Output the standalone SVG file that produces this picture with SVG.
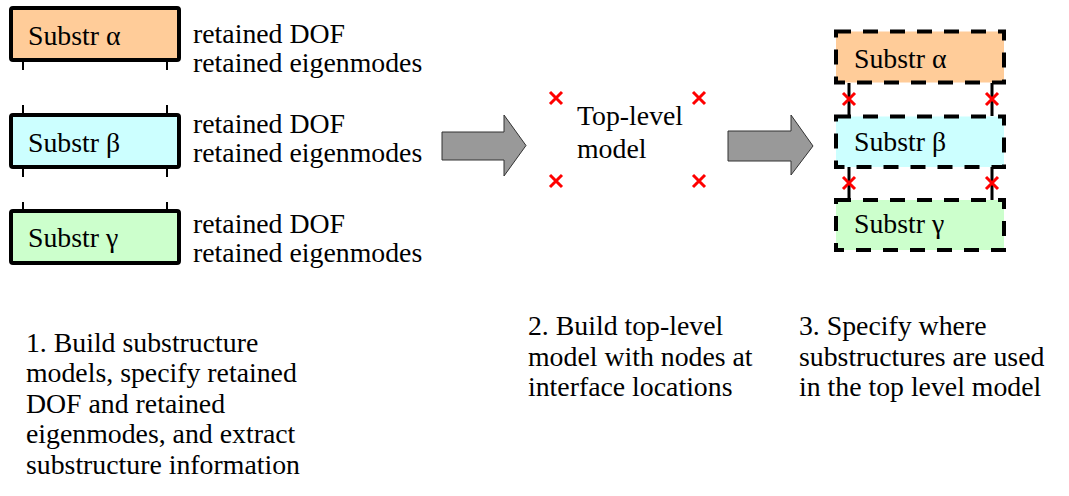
<svg xmlns="http://www.w3.org/2000/svg" width="1069" height="496" viewBox="0 0 1069 496">
  <style>
    .lbl { font-family: 'Liberation Serif', 'Times New Roman', Times, 'DejaVu Serif', serif; font-size: 27px; fill: #000; }
    .box { stroke: #000; stroke-width: 4; }
    .dash { stroke: #000; stroke-width: 4; stroke-dasharray: 15 12; }
    .tick { stroke: #000; stroke-width: 2; }
    .link { stroke: #000; stroke-width: 3; }
    .node-x { stroke: #ff0000; stroke-width: 3; fill: none; }
    .big-arrow { fill: #999999; stroke: #333333; stroke-width: 1; }
    .alpha { fill: #ffcc99; }
    .beta { fill: #ccffff; }
    .gamma { fill: #ccffcc; }
  </style>
  <defs>
    <path id="cross" d="M-6,-6 L6,6 M-6,6 L6,-6"/>
  </defs>

  <rect width="1069" height="496" fill="#ffffff"/>

  <!-- Step 1: individual substructures with their interface stubs -->
  <g id="sub-alpha">
    <rect class="box alpha" x="11" y="8" width="168" height="52" rx="2"/>
    <line class="tick" x1="23" y1="60" x2="23" y2="70"/>
    <line class="tick" x1="167" y1="60" x2="167" y2="70"/>
  </g>
  <g id="sub-beta">
    <rect class="box beta" x="11" y="115" width="168" height="52" rx="2"/>
    <line class="tick" x1="23" y1="105" x2="23" y2="115"/>
    <line class="tick" x1="167" y1="105" x2="167" y2="115"/>
    <line class="tick" x1="23" y1="167" x2="23" y2="177"/>
    <line class="tick" x1="167" y1="167" x2="167" y2="177"/>
  </g>
  <g id="sub-gamma">
    <rect class="box gamma" x="11" y="211" width="168" height="52" rx="2"/>
    <line class="tick" x1="23" y1="202" x2="23" y2="211"/>
    <line class="tick" x1="167" y1="202" x2="167" y2="211"/>
  </g>

  <!-- Step 2: top-level model nodes -->
  <g id="top-level-nodes">
    <use href="#cross" class="node-x" x="556" y="98"/>
    <use href="#cross" class="node-x" x="699" y="98"/>
    <use href="#cross" class="node-x" x="556" y="181"/>
    <use href="#cross" class="node-x" x="699" y="181"/>
  </g>

  <!-- Step 3: substructures placed into the top-level model -->
  <g id="connectors">
    <line class="link" x1="849" y1="83" x2="849" y2="116"/>
    <line class="link" x1="992" y1="83" x2="992" y2="116"/>
    <line class="link" x1="849" y1="167" x2="849" y2="200"/>
    <line class="link" x1="992" y1="167" x2="992" y2="200"/>
  </g>
  <g id="placed-alpha">
    <rect class="alpha" x="836" y="31.5" width="168" height="51"/>
    <rect class="dash" fill="none" x="836" y="31.5" width="168" height="51"/>
  </g>
  <g id="placed-beta">
    <rect class="beta" x="836" y="116.5" width="168" height="50.5"/>
    <rect class="dash" fill="none" x="836" y="116.5" width="168" height="50.5"/>
  </g>
  <g id="placed-gamma">
    <rect class="gamma" x="836" y="200" width="168" height="50"/>
    <rect class="dash" fill="none" x="836" y="200" width="168" height="50"/>
  </g>
  <g id="placed-nodes">
    <use href="#cross" class="node-x" x="849" y="99"/>
    <use href="#cross" class="node-x" x="992" y="99"/>
    <use href="#cross" class="node-x" x="849" y="183"/>
    <use href="#cross" class="node-x" x="992" y="183"/>
  </g>

  <!-- Block arrows between the steps -->
  <g id="arrow-1">
    <polygon class="big-arrow" points="442,132 504,132 504,115 526,145.5 504,176 504,160 442,160"/>
  </g>
  <g id="arrow-2">
    <polygon class="big-arrow" points="728,131 791,131 791,115 813,146 791,175 791,161 728,161"/>
  </g>

  <!-- Labels: glyphs slightly widened, x positions are divided by 1.03 -->
  <g id="labels" class="lbl" font-family="'Liberation Serif', 'DejaVu Serif', serif" transform="scale(1.03,1)">
    <text x="27.2" y="45">Substr α</text>
    <text x="27.2" y="152">Substr β</text>
    <text x="27.2" y="247">Substr γ</text>

    <text x="187.4" y="43">retained DOF</text>
    <text x="187.4" y="72">retained eigenmodes</text>
    <text x="187.4" y="133">retained DOF</text>
    <text x="187.4" y="162">retained eigenmodes</text>
    <text x="187.4" y="233">retained DOF</text>
    <text x="187.4" y="262">retained eigenmodes</text>

    <text x="560.2" y="125">Top-level</text>
    <text x="560.2" y="158">model</text>

    <text x="829.1" y="68">Substr α</text>
    <text x="829.1" y="151">Substr β</text>
    <text x="829.1" y="233">Substr γ</text>

    <text x="25.2" y="352">1. Build substructure</text>
    <text x="25.2" y="382">models, specify retained</text>
    <text x="25.2" y="413">DOF and retained</text>
    <text x="25.2" y="443">eigenmodes, and extract</text>
    <text x="25.2" y="474">substructure information</text>

    <text x="512.6" y="335">2. Build top-level</text>
    <text x="512.6" y="366">model with nodes at</text>
    <text x="512.6" y="396">interface locations</text>

    <text x="775.7" y="335">3. Specify where</text>
    <text x="775.7" y="366">substructures are used</text>
    <text x="775.7" y="396">in the top level model</text>
  </g>
</svg>
